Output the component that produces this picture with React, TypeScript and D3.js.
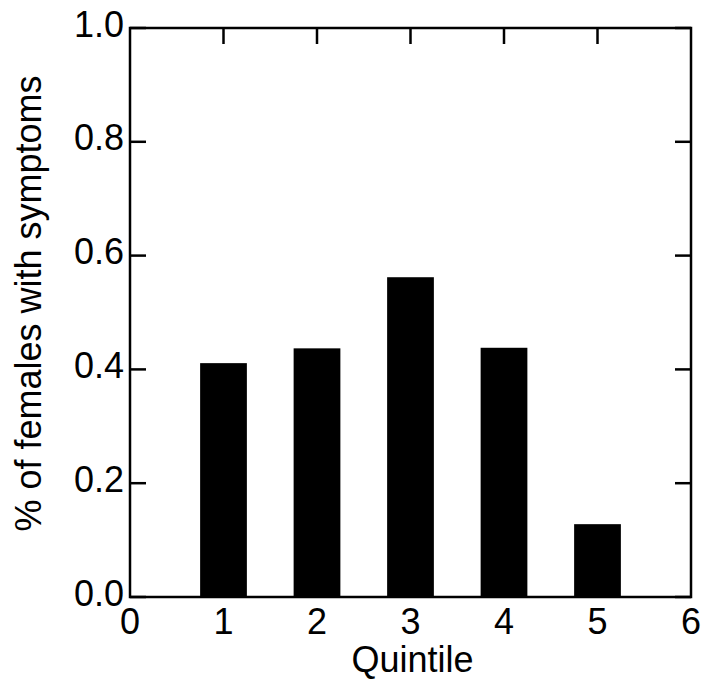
import React, { useRef, useEffect } from "react";
import * as d3 from "d3";

const quintiles = [1, 2, 3, 4, 5];
const fractions = [0.411, 0.437, 0.562, 0.438, 0.128];
const xTicks = [0, 1, 2, 3, 4, 5, 6];
const yTicks = [0, 0.2, 0.4, 0.6, 0.8, 1.0];

const width = 704;
const height = 681;
const margin = { top: 28, right: 13, bottom: 84, left: 130 };
const font = "'Liberation Sans', Arial, Helvetica, sans-serif";

const App = () => {
  const svgRef = useRef(null);

  useEffect(() => {
    const svg = d3.select(svgRef.current);
    svg.selectAll("*").remove(); // Clear previous render

    const x = d3
      .scaleLinear()
      .domain([0, 6])
      .range([margin.left, width - margin.right]);
    const y = d3
      .scaleLinear()
      .domain([0, 1])
      .range([height - margin.bottom, margin.top]);

    const tickLen = 16;

    // Bars
    svg
      .append("g")
      .selectAll("rect")
      .data(quintiles)
      .enter()
      .append("rect")
      .attr("x", (d) => x(d - 0.25))
      .attr("width", (d) => x(d + 0.25) - x(d - 0.25))
      .attr("y", (d, i) => y(fractions[i]))
      .attr("height", (d, i) => y(0) - y(fractions[i]))
      .attr("fill", "#000");

    const lines = svg
      .append("g")
      .attr("stroke", "#000")
      .attr("stroke-width", 2.5)
      .attr("fill", "none");

    // Frame
    lines
      .append("rect")
      .attr("x", x(0))
      .attr("y", y(1))
      .attr("width", x(6) - x(0))
      .attr("height", y(0) - y(1));

    // Inward ticks, top and bottom
    xTicks
      .filter((t) => t > 0 && t < 6)
      .forEach((t) => {
        lines
          .append("line")
          .attr("x1", x(t))
          .attr("x2", x(t))
          .attr("y1", y(1))
          .attr("y2", y(1) + tickLen);
        lines
          .append("line")
          .attr("x1", x(t))
          .attr("x2", x(t))
          .attr("y1", y(0))
          .attr("y2", y(0) - tickLen);
      });

    // Inward ticks, left and right
    yTicks.forEach((t) => {
      lines
        .append("line")
        .attr("x1", x(0))
        .attr("x2", x(0) + tickLen)
        .attr("y1", y(t))
        .attr("y2", y(t));
      lines
        .append("line")
        .attr("x1", x(6))
        .attr("x2", x(6) - tickLen)
        .attr("y1", y(t))
        .attr("y2", y(t));
    });

    const labels = svg
      .append("g")
      .attr("font-family", font)
      .attr("font-size", 36)
      .attr("fill", "#000");

    // Y tick labels
    labels
      .selectAll("text.ytick")
      .data(yTicks)
      .enter()
      .append("text")
      .attr("class", "ytick")
      .attr("x", x(0) - 6)
      .attr("y", (d) => y(d) + 8.5)
      .attr("text-anchor", "end")
      .text((d) => d.toFixed(1));

    // X tick labels
    labels
      .selectAll("text.xtick")
      .data(xTicks)
      .enter()
      .append("text")
      .attr("class", "xtick")
      .attr("x", (d) => x(d))
      .attr("y", y(0) + 37)
      .attr("text-anchor", "middle")
      .text((d) => d);

    // Axis titles
    labels
      .append("text")
      .attr("x", (x(0) + x(6)) / 2 + 2)
      .attr("y", 672)
      .attr("text-anchor", "middle")
      .text("Quintile");

    labels
      .append("text")
      .attr("transform", `translate(41, ${(y(0) + y(1)) / 2 - 9}) rotate(-90)`)
      .attr("text-anchor", "middle")
      .text("% of females with symptoms");
  }, []);

  return (
    <svg
      ref={svgRef}
      width={width}
      height={height}
      style={{ position: "absolute", left: 0, top: 0, background: "#fff" }}
    ></svg>
  );
};

export default App;
